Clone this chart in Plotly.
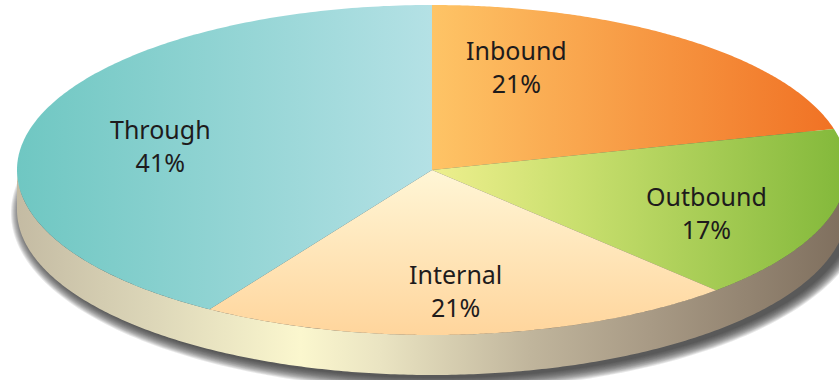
import numpy as np
import plotly.graph_objects as go

# ---- data ----
categories = ["Inbound", "Outbound", "Internal", "Through"]
shares = [21, 17, 21, 41]

# ---- style / geometry (pixel-like data units) ----
W, H = 839, 380
CX, CY = 432, 170
RA, RB = 415, 165
DEPTH = 40

slice_gradients = {
    "Inbound": dict(type="horizontal", colorscale=[[0, "#FEC466"], [1, "#F06F22"]], start=CX, stop=CX + RA),
    "Outbound": dict(type="horizontal", colorscale=[[0, "#EEEF8E"], [0.35, "#C9DF6E"], [1, "#82B83A"]], start=CX, stop=CX + RA),
    "Internal": dict(type="vertical", colorscale=[[0, "#FFF6D6"], [1, "#FFD59C"]], start=CY, stop=CY + RB),
    "Through": dict(type="horizontal", colorscale=[[0, "#6FC7C2"], [1, "#B4E1E5"]], start=CX - RA, stop=CX),
}
label_xy = {"Inbound": (516, 66), "Outbound": (706, 212), "Internal": (455, 290), "Through": (160, 145)}


def ell(theta, cx=CX, cy=CY, a=RA, b=RB):
    return cx + a * np.sin(theta), cy - b * np.cos(theta)


fig = go.Figure()

# shadow (soft, offset lower-right)
for s in range(12, -1, -1):
    t = np.linspace(0, 2 * np.pi, 300)
    x, y = ell(t, CX + 6, CY + DEPTH + 3, RA + s, RB + s)
    fig.add_trace(go.Scatter(x=x, y=y, fill="toself", mode="none",
                             fillcolor="rgba(50,50,50,0.11)", hoverinfo="skip", showlegend=False))

# side band
t = np.linspace(np.pi / 2, 3 * np.pi / 2, 300)
xt, yt = ell(t)
xs = np.concatenate([xt, xt[::-1]])
ys = np.concatenate([yt, yt[::-1] + DEPTH])
side_stops = [(17, "#C4BBA3"), (150, "#DCD6B8"), (300, "#FBF7CE"), (380, "#EAE4C2"),
              (530, "#C0B59C"), (650, "#A89A85"), (847, "#7E6E5D")]
x0, x1 = side_stops[0][0], side_stops[-1][0]
side_cs = [[(p - x0) / (x1 - x0), c] for p, c in side_stops]
fig.add_trace(go.Scatter(x=xs, y=ys, fill="toself", mode="none",
                         fillgradient=dict(type="horizontal", colorscale=side_cs, start=x0, stop=x1),
                         hoverinfo="skip", showlegend=False))

# top face wedges
total = sum(shares)
start = 0.0
for cat, v in zip(categories, shares):
    a0 = start / total * 2 * np.pi
    a1 = (start + v) / total * 2 * np.pi
    tt = np.linspace(a0, a1, 200)
    xw, yw = ell(tt)
    xw = np.concatenate([[CX], xw, [CX]])
    yw = np.concatenate([[CY], yw, [CY]])
    fig.add_trace(go.Scatter(x=xw, y=yw, fill="toself", mode="none",
                             fillgradient=slice_gradients[cat], hoverinfo="skip", showlegend=False))
    lx, ly = label_xy[cat]
    fig.add_annotation(x=lx, y=ly, text=f"{cat}<br>{v}%", showarrow=False,
                       font=dict(family="Noto Sans", size=25, color="#1E1B1C"),
                       xanchor="center", yanchor="middle")
    start += v

fig.update_layout(
    width=W, height=H, margin=dict(l=0, r=0, t=0, b=0),
    paper_bgcolor="white", plot_bgcolor="white",
    xaxis=dict(range=[0, W], visible=False, fixedrange=True),
    yaxis=dict(range=[H, 0], visible=False, fixedrange=True),
    showlegend=False,
)
fig.write_html("out.html")
